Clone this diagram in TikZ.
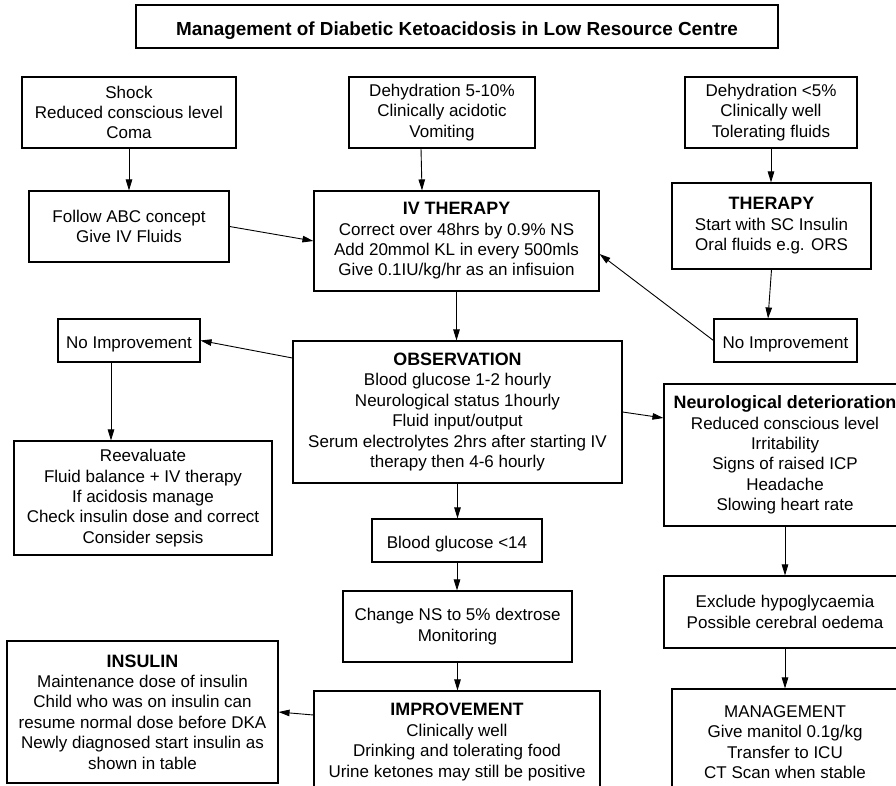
\documentclass[tikz,border=0pt]{standalone}
\usepackage{fontspec}
\setmainfont{Liberation Sans}
\usetikzlibrary{arrows.meta}
\newcommand{\hdr}[1]{{\fontsize{17.9}{20.4}\selectfont\bfseries #1}}
\begin{document}
\begin{tikzpicture}[x=1pt,y=-1pt,
  box/.style={draw=black, line width=1.1pt, rectangle, inner sep=0pt, align=center,
    font=\fontsize{17}{20.4}\selectfont,
    execute at begin node={\rule{0pt}{19pt}}},
  arr/.style={line width=0.9pt, -{Triangle[length=11pt,width=6.5pt]}}]
\useasboundingbox (0,0) rectangle (896,786);
\clip (0,0) rectangle (896,786);
\fill[white] (0,0) rectangle (896,786);
\node[box, minimum width=642pt, minimum height=43pt,
  font=\fontsize{18.9}{22}\selectfont\bfseries,
  execute at begin node={\rule{0pt}{22pt}}] (title) at (457,26.5)
  {Management of Diabetic Ketoacidosis in Low Resource Centre};
\node[box, minimum width=214pt, minimum height=71pt] (shock) at (129,112.5)
  {Shock\\Reduced conscious level\\Coma};
\node[box, minimum width=186pt, minimum height=71pt] (dehyd) at (442,112.5)
  {Dehydration 5-10\%\\Clinically acidotic\\Vomiting};
\node[box, minimum width=172pt, minimum height=71pt] (dehydfive) at (771,112.5)
  {Dehydration <5\%\\Clinically well\\Tolerating fluids};
\node[box, minimum width=200pt, minimum height=71pt] (follow) at (129,226.5)
  {Follow ABC concept\\Give IV Fluids};
\node[box, minimum width=285pt, minimum height=100pt] (iv) at (456.5,241)
  {\hdr{IV THERAPY}\\Correct over 48hrs by 0.9\% NS\\Add 20mmol KL in every 500mls\\Give 0.1IU/kg/hr as an infisuion};
\node[box, minimum width=199pt, minimum height=86pt] (therapy) at (771.5,226)
  {\hdr{THERAPY}\\Start with SC Insulin\\Oral fluids e.g. ORS};
\node[box, minimum width=142pt, minimum height=43pt] (noimpl) at (129,340.5)
  {No Improvement};
\node[box, minimum width=143pt, minimum height=43pt] (noimpr) at (785.5,340.5)
  {No Improvement};
\node[box, minimum width=329pt, minimum height=142pt] (obs) at (457.5,412)
  {\hdr{OBSERVATION}\\Blood glucose 1-2 hourly\\Neurological status 1hourly\\Fluid input/output\\Serum electrolytes 2hrs after starting IV\\therapy then 4-6 hourly};
\node[box, minimum width=258pt, minimum height=114pt] (reeval) at (143,498)
  {Reevaluate\\Fluid balance + IV therapy\\If acidosis manage\\Check insulin dose and correct\\Consider sepsis};
\node[box, minimum width=242pt, minimum height=142pt] (neuro) at (785,455)
  {\hdr{Neurological deterioration}\\Reduced conscious level\\Irritability\\Signs of raised ICP\\Headache\\Slowing heart rate};
\node[box, minimum width=170pt, minimum height=43pt] (bg) at (457,540.5)
  {Blood glucose <14};
\node[box, minimum width=242pt, minimum height=72pt] (exclude) at (785,612)
  {Exclude hypoglycaemia\\Possible cerebral oedema};
\node[box, minimum width=229pt, minimum height=71pt] (change) at (457.5,626.5)
  {Change NS to 5\% dextrose\\Monitoring};
\node[box, minimum width=271pt, minimum height=142pt] (insulin) at (142.5,712)
  {\hdr{INSULIN}\\Maintenance dose of insulin\\Child who was on insulin can\\resume normal dose before DKA\\Newly diagnosed start insulin as\\shown in table};
\node[box, minimum width=286pt, minimum height=102pt] (improve) at (457,742)
  {\hdr{IMPROVEMENT}\\Clinically well\\Drinking and tolerating food\\Urine ketones may still be positive};
\node[box, minimum width=226pt, minimum height=106pt] (manage) at (785,742)
  {MANAGEMENT\\Give manitol 0.1g/kg\\Transfer to ICU\\CT Scan when stable};
% connectors
\draw[arr] (shock.south) -- (follow.north);
\draw[arr] ([xshift=-21pt]dehyd.south) -- ([xshift=-34.5pt]iv.north);
\draw[arr] (dehydfive.south) -- (dehydfive.south |- therapy.north);
\draw[arr] (follow.east) -- (iv.west);
\draw[arr] (therapy.south) -- ([xshift=-17.5pt]noimpr.north);
\draw[arr] (noimpr.west) -- ([yshift=-13pt]iv.east);
\draw[arr] (iv.south) -- (iv.south |- obs.north);
\draw[arr] ([yshift=54pt]obs.west) -- (noimpl.east);
\draw[arr] ([xshift=-18pt]noimpl.south) -- ([xshift=-18pt]noimpl.south |- reeval.north);
\draw[arr] (obs.east) -- ([yshift=37pt]neuro.west);
\draw[arr] (obs.south) -- (obs.south |- bg.north);
\draw[arr] (bg.south) -- (bg.south |- change.north);
\draw[arr] (change.south) -- (change.south |- improve.north);
\draw[arr] ([yshift=27pt]improve.west) -- (insulin.east);
\draw[arr] (neuro.south) -- (exclude.north);
\draw[arr] (exclude.south) -- (exclude.south |- manage.north);
\end{tikzpicture}
\end{document}
